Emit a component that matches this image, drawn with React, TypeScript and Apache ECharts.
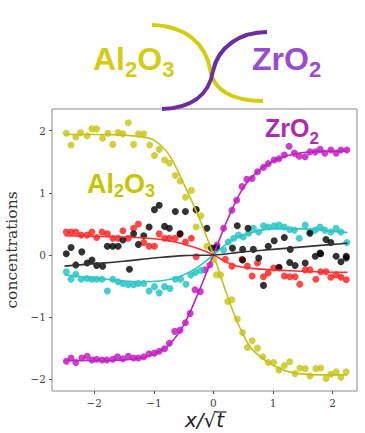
import React, { useEffect, useRef } from "react";
import * as echarts from "echarts";

const xTicks = [-2, -1, 0, 1, 2];
const yTicks = [-2, -1, 0, 1, 2];

const al2o3Pts = [
  [-2.47, 1.96], [-2.39, 1.77], [-2.31, 1.9], [-2.23, 1.97], [-2.12, 1.92], [-2.04, 2.03], [-1.96, 2.03],
  [-1.86, 1.88], [-1.77, 1.96], [-1.69, 1.78], [-1.6, 1.97], [-1.52, 1.95], [-1.43, 2.13], [-1.34, 1.78],
  [-1.26, 1.95], [-1.17, 1.95], [-1.07, 1.77], [-0.99, 1.6], [-0.91, 1.7], [-0.82, 1.53], [-0.74, 1.48],
  [-0.64, 1.28], [-0.56, 1.19], [-0.47, 0.93], [-0.37, 1.04], [-0.29, 0.73], [-0.21, 0.63], [-0.29, 0.45],
  [-0.11, 0.14], [0, -0.08], [0.05, -0.32], [0.12, -0.32], [0.24, -0.75], [0.31, -0.72], [0.4, -1.03],
  [0.49, -1.25], [0.57, -1.49], [0.65, -1.38], [0.74, -1.5], [0.83, -1.64], [0.92, -1.73], [1.01, -1.73],
  [1.1, -1.85], [1.19, -1.78], [1.28, -1.72], [1.37, -1.91], [1.45, -1.82], [1.54, -1.83], [1.62, -1.95],
  [1.72, -1.83], [1.8, -1.82], [1.89, -1.99], [1.97, -1.92], [2.06, -1.88], [2.14, -1.97], [2.23, -1.88],
];
const al2o3Fit = [
  [-2.5, 1.94], [-2.0, 1.94], [-1.5, 1.93], [-1.2, 1.9], [-1.0, 1.85], [-0.75, 1.62], [-0.5, 1.15],
  [-0.25, 0.62], [0, 0], [0.33, -0.91], [0.61, -1.47], [0.89, -1.71], [1.17, -1.85], [1.45, -1.91],
  [1.8, -1.93], [2.25, -1.93],
];

const zro2Pts = [
  [-2.47, -1.71], [-2.39, -1.66], [-2.31, -1.73], [-2.21, -1.66], [-2.12, -1.63], [-2.04, -1.69], [-1.96, -1.68],
  [-1.87, -1.69], [-1.79, -1.69], [-1.69, -1.68], [-1.61, -1.64], [-1.52, -1.67], [-1.43, -1.63], [-1.34, -1.66],
  [-1.26, -1.66], [-1.17, -1.64], [-1.08, -1.59], [-0.99, -1.58], [-0.91, -1.55], [-0.82, -1.51], [-0.74, -1.42],
  [-0.65, -1.23], [-0.56, -1.21], [-0.47, -1.09], [-0.39, -0.94], [-0.31, -0.56], [-0.22, -0.59], [-0.14, -0.24],
  [-0.06, -0.16], [0.06, 0.16], [0.17, 0.43], [0.31, 0.72], [0.39, 0.88], [0.48, 1.1], [0.56, 1.22],
  [0.65, 1.23], [0.74, 1.34], [0.84, 1.41], [0.92, 1.47], [1.02, 1.53], [1.1, 1.55], [1.19, 1.61],
  [1.27, 1.75], [1.36, 1.64], [1.44, 1.59], [1.54, 1.58], [1.62, 1.66], [1.71, 1.66], [1.79, 1.7],
  [1.87, 1.64], [1.97, 1.69], [2.06, 1.64], [2.14, 1.69], [2.24, 1.69],
];
const zro2Fit = [
  [-2.5, -1.7], [-2.0, -1.7], [-1.5, -1.69], [-1.2, -1.66], [-1.0, -1.6], [-0.75, -1.45], [-0.5, -1.13],
  [-0.25, -0.6], [0, 0], [0.25, 0.6], [0.5, 1.08], [0.75, 1.35], [1.0, 1.51], [1.25, 1.6], [1.5, 1.65],
  [1.9, 1.67], [2.25, 1.68],
];

const cyanPts = [
  [-2.47, -0.27], [-2.39, -0.39], [-2.31, -0.31], [-2.22, -0.39], [-2.12, -0.38], [-2.04, -0.39], [-1.96, -0.39],
  [-1.87, -0.39], [-1.78, -0.58], [-1.69, -0.39], [-1.6, -0.43], [-1.52, -0.46], [-1.43, -0.48], [-1.34, -0.48],
  [-1.26, -0.46], [-1.17, -0.46], [-1.08, -0.58], [-0.99, -0.51], [-0.91, -0.61], [-0.82, -0.51], [-0.73, -0.54],
  [-0.64, -0.39], [-0.55, -0.39], [-0.46, -0.47], [-0.38, -0.32], [-0.3, -0.28], [-0.21, -0.25], [0.17, 0.08],
  [0.25, 0.21], [0.34, 0.27], [0.42, 0.32], [0.5, 0.29], [0.59, 0.35], [0.67, 0.43], [0.76, 0.37],
  [0.84, 0.47], [0.92, 0.45], [1.02, 0.47], [1.1, 0.48], [1.19, 0.45], [1.28, 0.41], [1.36, 0.4],
  [1.44, 0.27], [1.54, 0.48], [1.62, 0.37], [1.71, 0.4], [1.79, 0.45], [1.87, 0.4], [1.97, 0.37],
  [2.06, 0.43], [2.14, 0.37], [2.24, 0.2],
];
const cyanFit = [
  [-2.5, -0.32], [-2.0, -0.37], [-1.5, -0.42], [-1.2, -0.43], [-0.9, -0.42], [-0.6, -0.36], [-0.3, -0.22],
  [0, 0], [0.25, 0.2], [0.5, 0.32], [1.0, 0.42], [1.5, 0.42], [2.0, 0.38], [2.25, 0.36],
];

const redPts = [
  [-2.47, 0.37], [-2.39, 0.37], [-2.31, 0.37], [-2.22, 0.32], [-2.12, 0.32], [-2.04, 0.37], [-1.96, 0.28],
  [-1.87, 0.37], [-1.78, 0.34], [-1.69, 0.27], [-1.6, 0.27], [-1.52, 0.39], [-1.43, 0.27], [-1.34, 0.43],
  [-1.26, 0.5], [-1.17, 0.2], [-1.08, 0.14], [-0.99, 0.14], [-0.91, 0.34], [-0.82, 0.27], [-0.74, 0.27],
  [-0.64, 0.27], [-0.56, 0.34], [-0.47, 0.21], [-0.37, 0.27], [-0.29, -0.03], [0.2, -0.07], [0.31, -0.18],
  [0.48, -0.07], [0.57, -0.18], [0.65, -0.34], [0.74, -0.13], [0.84, -0.35], [0.92, -0.29], [1.01, -0.21],
  [1.1, -0.21], [1.19, -0.34], [1.28, -0.35], [1.37, -0.35], [1.45, -0.47], [1.54, -0.24], [1.62, -0.24],
  [1.72, -0.39], [1.8, -0.27], [1.89, -0.27], [1.97, -0.36], [2.06, -0.32], [2.14, -0.36], [2.23, -0.4],
];
const redFit = [
  [-2.5, 0.31], [-2.0, 0.3], [-1.5, 0.29], [-1.0, 0.26], [-0.6, 0.2], [-0.19, 0.08], [0, 0],
  [0.33, -0.16], [0.7, -0.22], [1.2, -0.25], [1.7, -0.27], [2.25, -0.28],
];

const blackPts = [
  [-2.47, 0.02], [-2.39, 0.12], [-2.21, 0.05], [-2.31, -0.16], [-2.12, -0.13], [-2.04, -0.08], [-1.96, -0.17],
  [-1.86, -0.18], [-1.41, -0.23], [-1.78, 0.14], [-1.69, 0.14], [-1.6, 0.14], [-1.52, 0.24], [-1.34, 0.34],
  [-1.26, 0.17], [-1.17, 0.31], [-1.08, 0.45], [-0.99, 0.73], [-0.91, 0.8], [-0.82, 0.46], [-0.74, 0.43],
  [-0.64, 0.7], [-0.56, 0.34], [-0.47, 0.7], [-0.29, 0.73], [-0.11, 0.43], [-0.03, 0.11], [0.05, 0.12],
  [0.32, 0.11], [0.4, 0.47], [0.49, 0.09], [0.58, 0.43], [0.67, 0.09], [0.92, 0.14], [1.02, 0.23],
  [1.19, 0.28], [1.29, 0.09], [1.62, 0.35], [1.71, -0.02], [1.79, 0.03], [1.89, 0.25], [1.97, 0.2],
  [2.06, -0.02], [2.23, -0.02], [0.49, -0.08], [0.76, -0.05], [0.84, -0.49], [1.1, -0.2], [1.28, -0.12],
  [1.37, -0.17], [1.54, -0.13], [1.8, 0.02], [2.14, -0.11], [2.23, -0.05],
];
const blackFit = [
  [-2.5, -0.18], [-2.0, -0.14], [-1.5, -0.1], [-1.0, -0.05], [-0.5, -0.01], [0, 0], [0.5, 0.05],
  [1.0, 0.09], [1.5, 0.13], [2.0, 0.17], [2.25, 0.19],
];

const minus = (v: number) => (v < 0 ? "\u2212" + Math.abs(v) : String(v));

// chemical formula as one rich text: main tokens + lowered subscripts
const formula = (text: string, x: number, baseline: number, size: number, sub: number, drop: number, fill: string) => {
  const base = { fontFamily: "Liberation Sans", fontWeight: "bold", fill };
  const mainBase = size * 0.5 + size * 0.35; // baseline offset below line top
  const subPad = mainBase + drop - (sub * 0.5 + sub * 0.35);
  return {
    type: "text",
    x,
    y: baseline - mainBase,
    z: 10,
    style: {
      text,
      align: "left",
      verticalAlign: "top",
      rich: {
        a: { ...base, fontSize: size, lineHeight: size, verticalAlign: "top" },
        s: { ...base, fontSize: sub, lineHeight: sub, verticalAlign: "top", padding: [subPad, 0, 0, 0] },
      },
    },
  };
};

export default function App() {
  const ref = useRef<HTMLDivElement>(null);
  useEffect(() => {
    if (!ref.current) return;
    const chart = echarts.init(ref.current, null, { renderer: "svg" });
    const dots = (data: number[][], color: string) => ({
      type: "scatter",
      data,
      symbolSize: 7,
      itemStyle: { color },
      z: 2,
    });
    const fit = (data: number[][], color: string) => ({
      type: "line",
      data,
      smooth: 0.35,
      showSymbol: false,
      lineStyle: { color, width: 1.6 },
      z: 3,
    });
    const yel = "#d4cc14";
    const pur = "#9a4ccc";
    const yel2 = "#c8c400";
    const mag2 = "#b02ab0";
    chart.setOption({
      animation: false,
      grid: {
        left: 52, right: 8, top: 109, bottom: 42,
        show: true, borderColor: "#8a8a8a", borderWidth: 1,
        containLabel: false, outerBoundsMode: "none",
      },
      xAxis: {
        type: "value",
        min: -2.71,
        max: 2.41,
        splitLine: { show: false },
        axisLine: { show: false, onZero: false },
        axisTick: { show: true, customValues: xTicks, length: 3, lineStyle: { color: "#555" } },
        axisLabel: {
          customValues: xTicks,
          formatter: minus,
          fontFamily: "DejaVu Serif",
          fontSize: 10.5,
          color: "#444",
          margin: 6,
        },
        name: "x/\u221At",
        nameLocation: "middle",
        nameGap: 19,
        nameMoveOverlap: false,
        nameTextStyle: { fontFamily: "DejaVu Sans", fontStyle: "italic", fontSize: 20, lineHeight: 20, color: "#222" },
      },
      yAxis: {
        type: "value",
        min: -2.19,
        max: 2.35,
        splitLine: { show: false },
        axisLine: { show: false, onZero: false },
        axisTick: { show: true, customValues: yTicks, length: 3, lineStyle: { color: "#555" } },
        axisLabel: {
          customValues: yTicks,
          formatter: minus,
          fontFamily: "DejaVu Serif",
          fontSize: 10.5,
          color: "#444",
          margin: 6,
        },
        name: "concentrations",
        nameLocation: "middle",
        nameRotate: 90,
        nameGap: 28,
        nameTextStyle: { fontFamily: "DejaVu Serif", fontSize: 15.5, color: "#333" },
      },
      series: [
        dots(al2o3Pts, "#c4c410"),
        dots(zro2Pts, "#c010c0"),
        dots(cyanPts, "#18c0c0"),
        dots(redPts, "#ff1a1a"),
        dots(blackPts, "#000000"),
        fit(al2o3Fit, "#c2c21a"),
        fit(zro2Fit, "#c020c0"),
        fit(cyanFit, "#30c4c4"),
        fit(redFit, "#ff3030"),
        fit(blackFit, "#333333"),
      ],
      graphic: [
        {
          type: "bezierCurve",
          shape: { x1: 152, y1: 25, cpx1: 188, cpy1: 26, cpx2: 206, cpy2: 46, x2: 210, y2: 69 },
          style: { stroke: "#d4cc10", lineWidth: 4, fill: null },
        },
        {
          type: "bezierCurve",
          shape: { x1: 210, y1: 69, cpx1: 213, cpy1: 90, cpx2: 232, cpy2: 101, x2: 263, y2: 101 },
          style: { stroke: "#d4cc10", lineWidth: 4, fill: null },
        },
        {
          type: "bezierCurve",
          shape: { x1: 267, y1: 32, cpx1: 240, cpy1: 32, cpx2: 218, cpy2: 47, x2: 213, y2: 71 },
          style: { stroke: "#6a2ea2", lineWidth: 4, fill: null },
        },
        {
          type: "bezierCurve",
          shape: { x1: 213, y1: 71, cpx1: 209, cpy1: 96, cpx2: 190, cpy2: 108, x2: 162, y2: 109 },
          style: { stroke: "#6a2ea2", lineWidth: 4, fill: null },
        },
        formula("{a|Al}{s|2}{a|O}{s|3}", 93, 70, 32, 22, 7, yel),
        formula("{a|ZrO}{s|2}", 252, 70, 32, 22, 7, pur),
        formula("{a|Al}{s|2}{a|O}{s|3}", 87, 193, 27, 18, 4.5, yel2),
        formula("{a|ZrO}{s|2}", 265, 137, 25, 17, 7, mag2),
        {
          type: "line",
          shape: { x1: 215.5, y1: 412, x2: 226.5, y2: 412 },
          style: { stroke: "#222", lineWidth: 1.2 },
        },
      ],
    });
    return () => chart.dispose();
  }, []);
  return <div ref={ref} style={{ width: 365, height: 433, position: "absolute", left: 0, top: 0 }} />;
}
